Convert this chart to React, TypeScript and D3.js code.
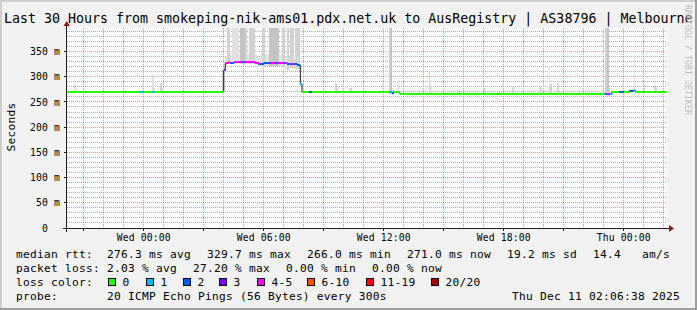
import React from "react";
import * as d3 from "d3";

const WIDTH = 697;
const HEIGHT = 310;

const TITLE = "Last 30 Hours from smokeping-nik-ams01.pdx.net.uk to AusRegistry | AS38796 | Melbourne";
const Y_LABEL = "Seconds";
const WATERMARK = "RRDTOOL / TOBI OETIKER";

// time in minutes relative to Wed 10 Dec 2025 00:00
const T_START = -230;
const T_END = 1570;
const STEP = 5;
const Y_MAX = 396.6;

const yTickValues = [0, 50, 100, 150, 200, 250, 300, 350];
const yTickLabels = ["0  ", "50 m", "100 m", "150 m", "200 m", "250 m", "300 m", "350 m"];
const xLabelMinutes = [0, 360, 720, 1080, 1440];
const xLabels = ["Wed 00:00", "Wed 06:00", "Wed 12:00", "Wed 18:00", "Thu 00:00"];

const lossLabels = ["0", "1", "2", "3", "4-5", "6-10", "11-19", "20/20"];
const lossColors = ["#26ff00", "#00b8ff", "#0059ff", "#7e00ff", "#ff00ff", "#ff5500", "#ff0000", "#a10000"];

// [start minute, median rtt (ms), loss bucket]
const medianSteps: [number, number, number][] = [
  [-230, 270.3, 0], [-15, 270.3, 1], [0, 270.3, 0], [25, 270.3, 1], [30, 270.3, 0],
  [240, 313, 3], [245, 328, 4], [255, 329, 5], [260, 328, 2], [270, 328.5, 4],
  [295, 328.5, 2], [300, 330, 4], [315, 329.5, 4], [335, 327, 4], [345, 324.5, 2],
  [360, 327.5, 2], [380, 328, 4], [395, 327.5, 2], [400, 328, 4], [410, 326.5, 4],
  [420, 326.5, 2], [425, 326.5, 4], [430, 326, 2], [445, 325.5, 4], [450, 326, 2],
  [460, 323, 2], [470, 286, 1], [475, 270.3, 0], [495, 270.3, 2], [505, 270.3, 0],
  [735, 270.3, 1], [745, 268, 2], [750, 270.3, 0], [765, 268, 0], [770, 266.3, 0],
  [1380, 265.5, 1], [1385, 265.5, 4], [1395, 265.5, 2], [1400, 265.5, 1], [1405, 270.3, 0],
  [1425, 270.5, 2], [1440, 270.3, 0], [1455, 271.5, 2], [1470, 273, 1], [1475, 270.3, 0],
];

// [start minute, min ping, max ping, density 1..3]
const smokeSteps: [number, number, number, number][] = [
  [-210, 268, 285, 2], [-205, 268, 275, 1],
  [25, 268, 305, 1], [30, 268, 277, 2],
  [50, 268, 288, 2], [55, 268, 280, 1],
  [235, 270, 313, 2], [240, 272, 328, 2],
  [245, 322, 340, 1], [250, 325, 460, 2], [255, 325, 460, 2], [260, 325, 345, 1],
  [265, 325, 460, 1], [270, 325, 460, 1], [275, 325, 460, 1], [280, 325, 460, 1],
  [285, 325, 345, 1], [290, 325, 460, 3], [295, 325, 460, 3], [300, 325, 460, 3],
  [305, 325, 460, 2], [310, 326, 345, 1],
  [315, 325, 460, 2], [320, 325, 460, 2], [325, 325, 460, 2], [330, 325, 460, 2],
  [335, 324, 345, 1], [340, 322, 340, 1], [345, 320, 340, 1], [350, 319, 345, 1],
  [355, 319, 460, 2], [360, 320, 460, 2], [365, 322, 345, 1], [370, 322, 345, 1],
  [375, 322, 460, 3], [380, 322, 460, 3], [385, 322, 460, 3], [390, 322, 460, 3],
  [395, 322, 460, 3], [400, 322, 460, 3], [405, 322, 345, 1], [410, 322, 345, 1],
  [415, 320, 460, 2], [420, 320, 460, 2], [425, 315, 340, 1], [430, 314, 460, 2],
  [435, 318, 340, 1], [440, 318, 460, 2], [445, 318, 460, 2], [450, 318, 335, 1],
  [455, 316, 460, 2], [460, 316, 460, 2], [465, 316, 460, 2],
  [575, 268, 288, 2], [580, 268, 282, 1],
  [615, 268, 292, 1], [620, 268, 278, 2], [630, 268, 275, 1],
  [735, 266, 460, 2], [740, 266, 460, 3], [760, 266, 292, 1],
  [855, 265, 311, 2], [860, 265, 283, 1], [940, 265, 274, 2],
  [1020, 265, 278, 2], [1105, 265, 280, 2], [1190, 265, 280, 2],
  [1215, 265, 321, 1], [1220, 265, 285, 2], [1240, 265, 288, 2],
  [1330, 265, 275, 1], [1385, 264, 460, 2], [1390, 264, 460, 3],
  [1470, 270, 340, 1], [1500, 269, 283, 2], [1530, 269, 297, 1], [1535, 269, 280, 2],
];

const statsRow1: [number, string][] = [
  [16, "median rtt:"], [107, "276.3 ms avg"], [207, "329.7 ms max"], [307, "266.0 ms min"],
  [407, "271.0 ms now"], [507, "19.2 ms sd"], [593, "14.4"], [642, "am/s"],
];
const statsRow2: [number, string][] = [
  [16, "packet loss:"], [107, "2.03 % avg"], [193, "27.20 % max"], [286, "0.00 % min"], [372, "0.00 % now"],
];
const lossBoxX = [108, 146, 183, 219, 257, 307, 366, 431];
const probeText = "20 ICMP Echo Pings (56 Bytes) every 300s";
const dateText = "Thu Dec 11 02:06:38 2025";

const smokeShades = ["#e2e2e2", "#d2d2d2", "#c4c4c4"];
const FONT = "'DejaVu Sans Mono', monospace";

export default function App() {
  const x = d3.scaleLinear().domain([T_START, T_END]).range([67, 667]);
  const y = d3.scaleLinear().domain([0, Y_MAX]).range([228, 28]);
  const px = (v: number) => Math.floor(v) + 0.5;

  const hourGrid = d3.range(Math.ceil(T_START / 60) * 60, T_END, 60);
  const valueGrid = d3.range(10, Y_MAX, 10);

  const steps = medianSteps.map((d, i) => ({
    t0: d[0],
    t1: i < medianSteps.length - 1 ? medianSteps[i + 1][0] : T_END,
    v: d[1],
    loss: d[2],
  }));
  const linePts: [number, number][] = [
    ...steps.map((s) => [s.t0, s.v] as [number, number]),
    [T_END, steps[steps.length - 1].v],
  ];
  const medianLine = d3
    .line<[number, number]>()
    .x((d) => x(d[0]))
    .y((d) => y(d[1]))
    .curve(d3.curveStepAfter)(linePts) as string;

  const plotLeft = x(T_START);
  const plotRight = x(T_END);
  const plotTop = y(Y_MAX);
  const plotBottom = y(0);
  const xAxisY = px(plotBottom);
  const yAxisX = plotLeft - 0.5;

  const legendStyle = { fontFamily: FONT, fontSize: 11.2, letterSpacing: 0.26, fill: "#000" } as const;
  const axisStyle = { fontFamily: FONT, fontSize: 9.75, letterSpacing: 0.13, fill: "#000" } as const;

  return (
    <svg
      width={WIDTH}
      height={HEIGHT}
      style={{ position: "absolute", left: 0, top: 0, display: "block" }}
      xmlns="http://www.w3.org/2000/svg"
    >
      <defs>
        <clipPath id="plotClip">
          <rect x={plotLeft} y={plotTop} width={plotRight - plotLeft} height={plotBottom - plotTop} />
        </clipPath>
      </defs>
      {/* background + shading frame */}
      <rect x={0} y={0} width={WIDTH} height={HEIGHT} fill="#f2f2f2" />
      <rect x={0} y={0} width={WIDTH} height={2} fill="#cfcfcf" />
      <rect x={0} y={0} width={2} height={HEIGHT} fill="#cfcfcf" />
      <rect x={0} y={HEIGHT - 2} width={WIDTH} height={2} fill="#9e9e9e" />
      <rect x={WIDTH - 2} y={0} width={2} height={HEIGHT} fill="#9e9e9e" />

      {/* canvas */}
      <rect x={plotLeft} y={plotTop} width={plotRight - plotLeft} height={plotBottom - plotTop} fill="#ffffff" />

      {/* grid */}
      <g shapeRendering="crispEdges">
        {valueGrid.map((v) => (
          <line
            key={"h" + v}
            x1={plotLeft}
            x2={plotRight}
            y1={px(y(v))}
            y2={px(y(v))}
            stroke={v % 50 === 0 ? "rgba(222,79,79,0.6)" : "rgba(143,143,143,0.75)"}
            strokeDasharray="1,1"
          />
        ))}
        {hourGrid.map((m) => (
          <line
            key={"v" + m}
            x1={px(x(m))}
            x2={px(x(m))}
            y1={plotTop}
            y2={plotBottom}
            stroke={m % 180 === 0 ? "rgba(222,79,79,0.6)" : "rgba(143,143,143,0.75)"}
            strokeDasharray="1,1"
          />
        ))}
      </g>

      {/* smoke */}
      <g clipPath="url(#plotClip)" shapeRendering="crispEdges">
        {smokeSteps.map((d, i) => (
          <rect
            key={"s" + i}
            x={x(d[0])}
            width={x(d[0] + STEP) - x(d[0])}
            y={y(d[2])}
            height={y(d[1]) - y(d[2])}
            fill={smokeShades[d[3] - 1]}
          />
        ))}
      </g>

      {/* median */}
      <g clipPath="url(#plotClip)">
        <path d={medianLine} fill="none" stroke="#202020" strokeWidth={1} />
        <g shapeRendering="crispEdges">
          {steps.map((s, i) => (
            <rect
              key={"m" + i}
              x={x(s.t0)}
              width={x(s.t1) - x(s.t0)}
              y={y(s.v) - 1}
              height={2}
              fill={lossColors[s.loss]}
            />
          ))}
        </g>
      </g>

      {/* axes */}
      <g shapeRendering="crispEdges">
        <line x1={plotLeft - 4} x2={plotRight + 4} y1={xAxisY} y2={xAxisY} stroke="#1f1f1f" />
        <line x1={yAxisX} x2={yAxisX} y1={plotBottom + 4} y2={plotTop - 4} stroke="#1f1f1f" />
        {yTickValues.map((v) => (
          <line key={"yt" + v} x1={yAxisX - 3} x2={yAxisX} y1={px(y(v))} y2={px(y(v))} stroke="#1f1f1f" />
        ))}
        {hourGrid
          .filter((m) => m % 180 === 0)
          .map((m) => (
            <line key={"xt" + m} x1={px(x(m))} x2={px(x(m))} y1={plotBottom} y2={plotBottom + 3} stroke="#1f1f1f" />
          ))}
      </g>
      <path
        d={`M${plotRight + 2},${plotBottom - 3}L${plotRight + 2},${plotBottom + 4}L${plotRight + 7},${plotBottom + 0.5}Z`}
        fill="#801f1f"
      />
      <path
        d={`M${yAxisX - 3},${plotTop - 2}L${yAxisX + 3.5},${plotTop - 2}L${yAxisX + 0.25},${plotTop - 7}Z`}
        fill="#801f1f"
      />

      {/* y labels */}
      {yTickValues.map((v, i) => (
        <text
          key={"yl" + v}
          x={60}
          y={y(v) + 3.6}
          textAnchor="end"
          style={{ ...axisStyle, whiteSpace: "pre" }}
        >
          {yTickLabels[i]}
        </text>
      ))}
      {/* x labels */}
      {xLabelMinutes.map((m, i) => (
        <text key={"xl" + m} x={x(m)} y={241} textAnchor="middle" style={axisStyle}>
          {xLabels[i]}
        </text>
      ))}

      {/* y axis title */}
      <text
        transform={`translate(14.5,127) rotate(-90)`}
        textAnchor="middle"
        style={legendStyle}
      >
        {Y_LABEL}
      </text>

      {/* title */}
      <text x={4} y={23} style={{ fontFamily: FONT, fontSize: 13.3, fill: "#000", whiteSpace: "pre" }}>
        {TITLE}
      </text>

      {/* watermark */}
      <text
        transform={`translate(685,5) rotate(90)`}
        style={{ fontFamily: FONT, fontSize: 8.3, fill: "#bfbfbf" }}
      >
        {WATERMARK}
      </text>

      {/* legend */}
      {statsRow1.map(([lx, t], i) => (
        <text key={"r1" + i} x={lx} y={258} style={{ ...legendStyle, whiteSpace: "pre" }}>
          {t}
        </text>
      ))}
      {statsRow2.map(([lx, t], i) => (
        <text key={"r2" + i} x={lx} y={272} style={{ ...legendStyle, whiteSpace: "pre" }}>
          {t}
        </text>
      ))}
      <text x={16} y={286} style={legendStyle}>loss color:</text>
      {lossLabels.map((lab, i) => (
        <g key={"lc" + i}>
          <rect
            x={lossBoxX[i] + 0.5}
            y={278.5}
            width={7}
            height={7}
            fill={lossColors[i]}
            stroke="#000"
            strokeWidth={1}
            shapeRendering="crispEdges"
          />
          <text x={lossBoxX[i] + 14.5} y={286} style={legendStyle}>
            {lab}
          </text>
        </g>
      ))}
      <text x={16} y={299.5} style={legendStyle}>probe:</text>
      <text x={107} y={299.5} style={legendStyle}>{probeText}</text>
      <text x={680} y={299.5} textAnchor="end" style={legendStyle}>{dateText}</text>
    </svg>
  );
}
